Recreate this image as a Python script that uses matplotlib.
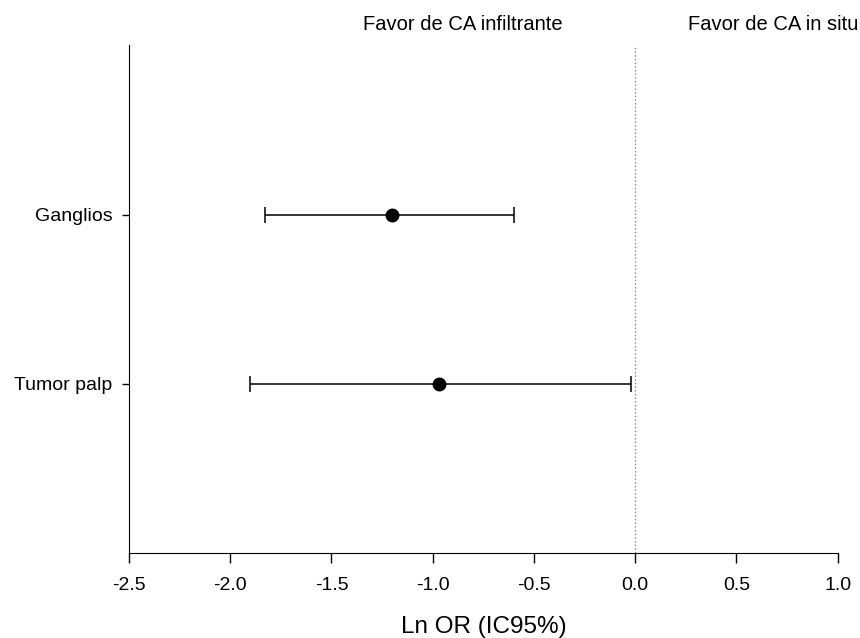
import matplotlib
matplotlib.use("Agg")
import matplotlib.pyplot as plt

plt.rcParams['font.family'] = ['Liberation Sans', 'DejaVu Sans']

# Ln OR estimates with 95% CI
variables = ["Tumor palp", "Ganglios"]
ln_or = [-0.97, -1.20]
ci_low = [-1.90, -1.83]
ci_high = [-0.02, -0.60]
positions = [1, 2]

xticks = [-2.5, -2.0, -1.5, -1.0, -0.5, 0.0, 0.5, 1.0]

fig = plt.figure(figsize=(8.6, 6.38), dpi=100)
ax = fig.add_axes([0.15, 0.133, 0.824, 0.796])

err_low = [m - l for m, l in zip(ln_or, ci_low)]
err_high = [h - m for m, h in zip(ln_or, ci_high)]
ax.errorbar(ln_or, positions, xerr=[err_low, err_high], fmt='o', color='black',
            ecolor='black', elinewidth=1.1, capsize=6, capthick=1.1, markersize=9, zorder=3)

ax.axvline(0, color='#888888', linestyle=':', linewidth=1, zorder=1)

ax.set_xlim(-2.5, 1.0)
ax.set_ylim(0, 3)
ax.set_xticks(xticks)
ax.set_xticklabels([f"{t:.1f}" for t in xticks])
ax.set_yticks(positions)
ax.set_yticklabels(variables)
ax.tick_params(axis='both', direction='out', width=1, labelsize=14)
ax.tick_params(axis='x', length=7, pad=10)
ax.tick_params(axis='y', length=5, pad=7)

ax.spines['top'].set_visible(False)
ax.spines['right'].set_visible(False)

ax.set_xlabel("Ln OR (IC95%)", fontsize=17.5, labelpad=16)

# favour labels above the plot
ax.text(-0.85, 3.089, "Favor de CA infiltrante", ha='center', va='baseline', fontsize=14.5,
        transform=ax.transData, clip_on=False)
ax.text(0.68, 3.089, "Favor de CA in situ", ha='center', va='baseline', fontsize=14.5,
        transform=ax.transData, clip_on=False)

fig.savefig("out.png", dpi=100)
